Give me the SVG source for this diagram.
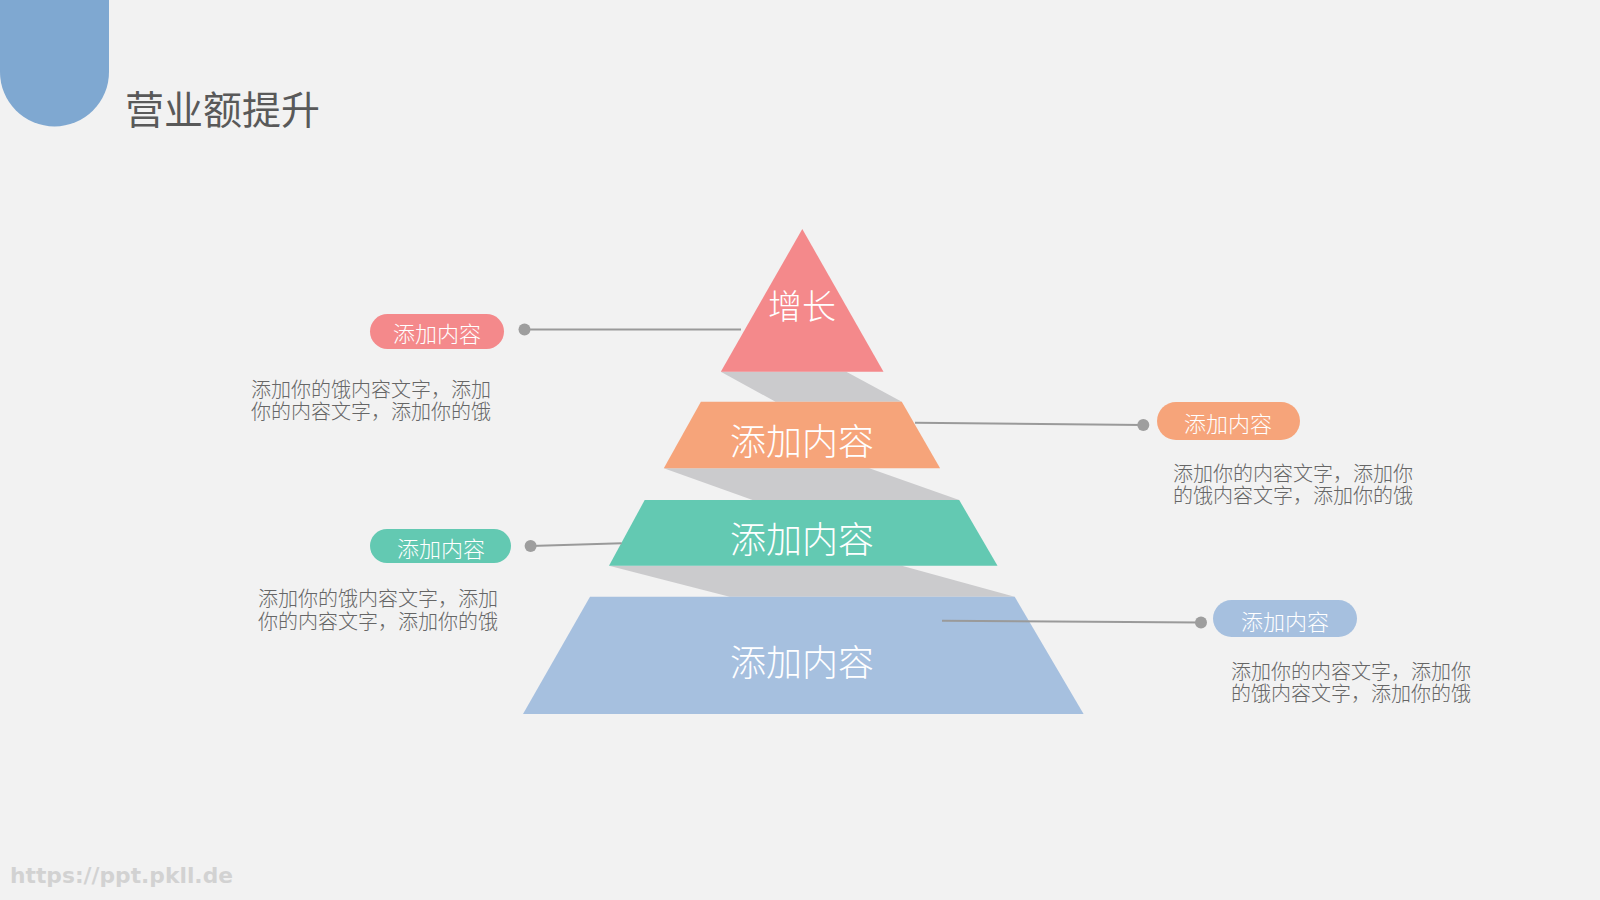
<svg xmlns="http://www.w3.org/2000/svg" width="1600" height="900" viewBox="0 0 1600 900">
<style>
.cjk{font-family:"Noto Sans CJK SC","Noto Sans",sans-serif;font-weight:300}
.lvl{fill:#ffffff;font-size:36px;text-anchor:middle;dominant-baseline:central}
.pill-t{fill:#ffffff;font-size:22px;text-anchor:middle;dominant-baseline:central}
.desc{fill:#666666;font-size:20px;dominant-baseline:central}
.shadow{fill:#cbcbcd}
.conn{stroke:#9a9a9a;stroke-width:2;fill:none}
.dot{fill:#9e9e9e}
</style>
<rect width="1600" height="900" fill="#f2f2f2"/>
<path id="corner" d="M0,0 H109 V72 A54.5,54.5 0 0 1 0,72 Z" fill="#7fa8d1"/>
<text id="title" class="cjk" x="125" y="107" font-size="39" fill="#595959" dominant-baseline="central" style="font-weight:400">营业额提升</text>

<g id="shadows">
<polygon class="shadow" points="720.8,371.7 846.3,371.7 901.8,401.7 775.5,401.7"/>
<polygon class="shadow" points="663.8,468.3 869.3,468.3 959.2,500 752.6,500"/>
<polygon class="shadow" points="609,565.7 901.8,565.7 1014.7,596.7 729.6,596.7"/>
</g>

<g id="level1">
<polygon points="802.3,229 883.5,371.7 720.8,371.7" fill="#f4898b"/>
<text class="cjk lvl" x="802" y="304" style="font-size:34px">增长</text>
</g>
<g id="level2">
<polygon points="700.9,401.7 901.8,401.7 940.1,468.3 663.8,468.3" fill="#f6a47a"/>
<text class="cjk lvl" x="802" y="439">添加内容</text>
</g>
<g id="level3">
<polygon points="644.7,500 959.2,500 997.5,565.7 609,565.7" fill="#63c9b2"/>
<text class="cjk lvl" x="802" y="537">添加内容</text>
</g>
<g id="level4">
<polygon points="590,596.7 1014.7,596.7 1083.6,714 523,714" fill="#a6c0df"/>
<text class="cjk lvl" x="802" y="660">添加内容</text>
</g>

<g id="connectors">
<line class="conn" x1="524.5" y1="329.6" x2="741" y2="329.6"/>
<circle class="dot" cx="524.5" cy="329.6" r="6"/>
<line class="conn" x1="530.6" y1="546" x2="621.7" y2="543.3"/>
<circle class="dot" cx="530.6" cy="546" r="6"/>
<line class="conn" x1="915" y1="422.7" x2="1143.3" y2="425"/>
<circle class="dot" cx="1143.3" cy="425" r="6"/>
<line class="conn" x1="942" y1="620.7" x2="1201" y2="622.4"/>
<circle class="dot" cx="1201" cy="622.4" r="6"/>
</g>

<g id="label-left-1">
<rect x="370" y="314" width="134" height="35" rx="17.5" fill="#f4898b"/>
<text class="cjk pill-t" x="437" y="332">添加内容</text>
<text class="cjk desc" x="251" y="387.5"><tspan x="251">添加你的饿内容文字，添加</tspan><tspan x="251" dy="22.5">你的内容文字，添加你的饿</tspan></text>
</g>
<g id="label-left-2">
<rect x="370" y="529" width="141" height="34" rx="17" fill="#63c9b2"/>
<text class="cjk pill-t" x="441" y="547">添加内容</text>
<text class="cjk desc" x="258" y="597"><tspan x="258">添加你的饿内容文字，添加</tspan><tspan x="258" dy="22.5">你的内容文字，添加你的饿</tspan></text>
</g>
<g id="label-right-1">
<rect x="1157" y="402" width="143" height="38" rx="19" fill="#f6a47a"/>
<text class="cjk pill-t" x="1228" y="422">添加内容</text>
<text class="cjk desc" x="1173" y="471.5"><tspan x="1173">添加你的内容文字，添加你</tspan><tspan x="1173" dy="22.5">的饿内容文字，添加你的饿</tspan></text>
</g>
<g id="label-right-2">
<rect x="1213" y="600" width="144" height="37" rx="18.5" fill="#a6c0df"/>
<text class="cjk pill-t" x="1285" y="620">添加内容</text>
<text class="cjk desc" x="1231" y="669.5"><tspan x="1231">添加你的内容文字，添加你</tspan><tspan x="1231" dy="22.5">的饿内容文字，添加你的饿</tspan></text>
</g>

<text id="watermark" x="10" y="883" font-family="'DejaVu Sans',sans-serif" font-weight="bold" font-size="22" fill="#d2d2d2" textLength="223" lengthAdjust="spacingAndGlyphs">https://ppt.pkll.de</text>
</svg>
